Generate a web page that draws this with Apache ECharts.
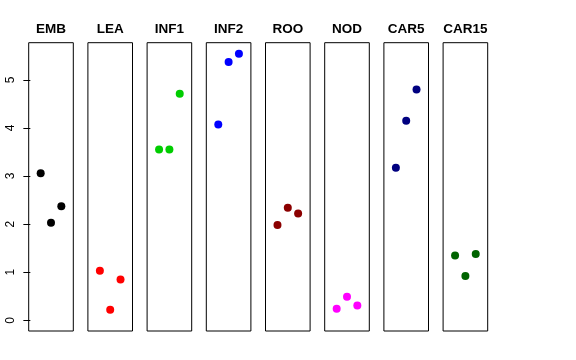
<!DOCTYPE html>
<html><head><meta charset="utf-8">
<script src="https://cdn.jsdelivr.net/npm/echarts@6/dist/echarts.min.js"></script>
<style>html,body{margin:0;padding:0;background:#fff}#c{width:576px;height:360px}</style>
</head><body><div id="c"></div>
<script>
const groups = ['EMB','LEA','INF1','INF2','ROO','NOD','CAR5','CAR15'];
const colors = ['#000000','#FF0000','#00CD00','#0000FF','#8B0000','#FF00FF','#000080','#006400'];
const xPos = [1,2,3];
const EMB = [3.06, 2.03, 2.37];
const LEA = [1.03, 0.22, 0.85];
const INF1 = [3.55, 3.55, 4.71];
const INF2 = [4.07, 5.37, 5.54];
const ROO = [1.98, 2.34, 2.22];
const NOD = [0.24, 0.49, 0.31];
const CAR5 = [3.17, 4.15, 4.80];
const CAR15 = [1.35, 0.92, 1.38];
const yTicks = [0,1,2,3,4,5];
const values = [EMB, LEA, INF1, INF2, ROO, NOD, CAR5, CAR15];

const chart = echarts.init(document.getElementById('c'), null, {renderer:'canvas'});
const grids=[], xAxes=[], yAxes=[], series=[], titles=[];
const gLeft0 = 28.7, gStep = 59.2, gW = 44.6, gTop = 42.7, gH = 288.3;
groups.forEach((g,i)=>{
  const l = gLeft0 + gStep*i;
  grids.push({left:l, top:gTop, width:gW, height:gH, show:true, borderColor:'#000', borderWidth:1, backgroundColor:'transparent'});
  xAxes.push({gridIndex:i, type:'value', min:-0.16, max:4.16, show:false});
  yAxes.push({gridIndex:i, type:'value', min:-0.222, max:5.772,
    show: i===0,
    axisLine:{show:false},
    splitLine:{show:false},
    axisTick:{show:true, length:7, lineStyle:{color:'#000'}, customValues: yTicks},
    axisLabel:{show:true, rotate:90, margin:12, fontSize:12, color:'#000', fontFamily:'Liberation Sans', customValues: yTicks}
  });
  series.push({type:'scatter', xAxisIndex:i, yAxisIndex:i, symbol:'circle', symbolSize:8,
    itemStyle:{color:colors[i], opacity:1}, data: xPos.map((x,k)=>[x, values[i][k]]), silent:true});
  titles.push({text:g, left:l + gW/2, top:22, textAlign:'center', padding:0,
    textStyle:{fontSize:13.5, fontWeight:'bold', color:'#000', fontFamily:'Liberation Sans'}});
});
chart.setOption({animation:false, title:titles, grid:grids, xAxis:xAxes, yAxis:yAxes, series:series});
</script></body></html>
